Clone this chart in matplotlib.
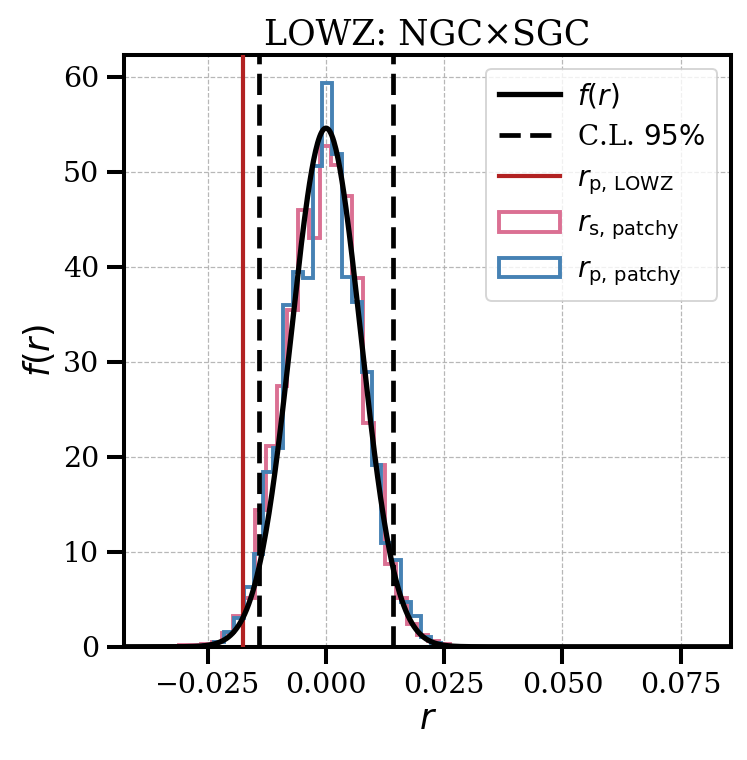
import numpy as np
import matplotlib
matplotlib.use('Agg')
import matplotlib.pyplot as plt

plt.rcParams['font.family'] = 'serif'
plt.rcParams['font.serif'] = ['DejaVu Serif']
plt.rcParams['mathtext.fontset'] = 'dejavusans'

# fitted distribution f(r) (mean, sigma) and 95% confidence limits
f_mean = 0.0
f_sigma = 0.00731
cl_low, cl_high = -0.01425, 0.01410
r_p_lowz = -0.01755

# r_s, patchy histogram (density)
rs_edges = np.linspace(-0.03107, 0.02620, 26)
rs_vals = [0.2, 0.2, 0.3, 0.5, 1.5, 3.2, 5.1, 14.4, 21.1, 27.4, 35.4, 46.0, 43.0,
           52.7, 50.7, 47.4, 38.8, 23.5, 19.1, 8.7, 5.1, 2.4, 1.2, 0.6, 0.3]

# r_p, patchy histogram (density)
rp_edges = np.linspace(-0.02570, 0.02422, 25)
rp_vals = [0.2, 0.5, 1.6, 3.0, 6.3, 9.8, 18.4, 20.9, 36.0, 39.4, 38.8, 50.6,
           59.3, 51.9, 38.9, 36.3, 28.9, 19.1, 10.9, 9.1, 4.7, 3.2, 1.05, 0.4]

fig = plt.figure(figsize=(7.47, 7.6), dpi=100)
ax = fig.add_axes([0.166, 0.149, 0.813, 0.779])

r = np.linspace(-0.0427, 0.0857, 600)
fr = np.exp(-0.5 * ((r - f_mean) / f_sigma) ** 2) / (f_sigma * np.sqrt(2 * np.pi))

ax.plot(r, fr, color='black', lw=3.8, label=r'$f(r)$', zorder=5)
ax.axvline(cl_low, color='black', ls=(0, (4.5, 2)), lw=3.4, label=r'C.L. $95\%$', zorder=4)
ax.axvline(cl_high, color='black', ls=(0, (4.5, 2)), lw=3.4, zorder=4)
ax.axvline(r_p_lowz, color='#b22222', lw=3.0, label=r'$r_{\rm p,\,LOWZ}$', zorder=3)

ax.hist(rs_edges[:-1], bins=rs_edges, weights=rs_vals, histtype='step',
        color='#db7093', lw=2.8, label=r'$r_{\rm s,\,patchy}$', zorder=2)
ax.hist(rp_edges[:-1], bins=rp_edges, weights=rp_vals, histtype='step',
        color='#4682b4', lw=2.8, label=r'$r_{\rm p,\,patchy}$', zorder=2)

ax.set_xlim(-0.0427, 0.0857)
ax.set_ylim(0, 62.3)
ax.set_xticks([-0.025, 0.0, 0.025, 0.05, 0.075])
ax.set_xticklabels(['\u22120.025', '0.000', '0.025', '0.050', '0.075'])
ax.set_yticks([0, 10, 20, 30, 40, 50, 60])

ax.grid(True, ls='--', color='#b0b0b0', lw=0.9, alpha=0.9)
ax.set_axisbelow(True)
for sp in ax.spines.values():
    sp.set_linewidth(2.9)
ax.tick_params(axis='both', which='major', length=12, width=2.9, labelsize=20.5, pad=6)

ax.set_xlabel(r'$r$', fontsize=25, labelpad=2)
ax.set_ylabel(r'$f(r)$', fontsize=25, labelpad=4)
ax.set_title('LOWZ: NGC\u00d7SGC', fontsize=25, pad=7)

leg = ax.legend(loc='upper right', fontsize=20, framealpha=0.8,
                handlelength=2.2, borderpad=0.45, labelspacing=0.5,
                handletextpad=0.6, borderaxespad=0.5)
leg.get_frame().set_linewidth(1.4)

fig.savefig('out.png', dpi=100)
